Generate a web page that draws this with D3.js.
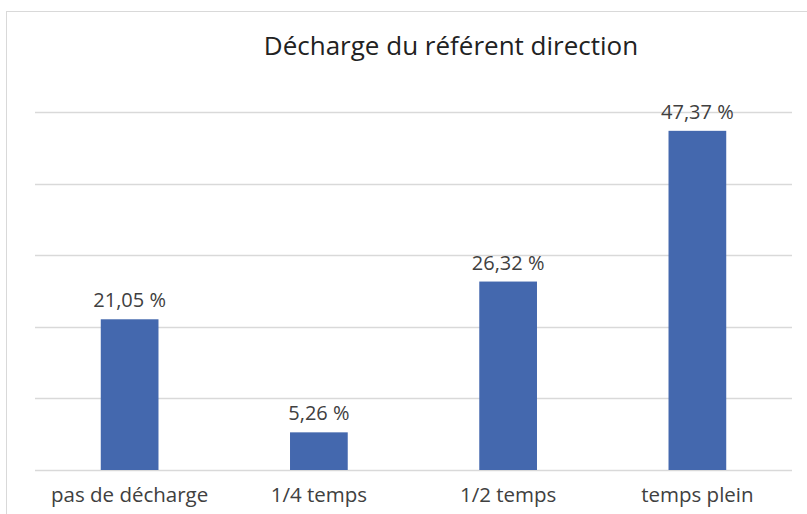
<!DOCTYPE html>
<html><head><meta charset="utf-8">
<script src="https://cdn.jsdelivr.net/npm/d3@7"></script>
<style>body{margin:0;background:#fff;} svg{display:block;}</style>
</head><body>
<svg id="c" width="807" height="514"></svg>
<script>
const categories = ["pas de décharge", "1/4 temps", "1/2 temps", "temps plein"];
const values = [21.05, 5.26, 26.32, 47.37];
const valueLabels = ["21,05 %", "5,26 %", "26,32 %", "47,37 %"];
const yTicks = [0, 10, 20, 30, 40, 50];
const title = "Décharge du référent direction";

(function () {
const svg = d3.select("#c");
const font = "'Open Sans', 'Liberation Sans', sans-serif";
svg.append("rect").attr("x", 6.5).attr("y", 11.5).attr("width", 900).attr("height", 600)
  .attr("fill", "#fff").attr("stroke", "#d9d9d9").attr("stroke-width", 1);

const mLeft = 35, mRight = 792, mTop = 112, mBottom = 470;
const x = d3.scaleBand().domain(categories).range([mLeft, mRight]).paddingInner(0.695).paddingOuter(0.3475);
const y = d3.scaleLinear().domain([0, 50]).range([mBottom, mTop]);

svg.append("g").selectAll("line").data(yTicks).join("line")
  .attr("x1", mLeft).attr("x2", mRight)
  .attr("y1", d => Math.round(y(d)) + 0.5).attr("y2", d => Math.round(y(d)) + 0.5)
  .attr("stroke", "#d9d9d9").attr("stroke-width", 1.5);

svg.append("g").selectAll("rect").data(values).join("rect")
  .attr("x", (d, i) => x(categories[i])).attr("width", x.bandwidth())
  .attr("y", d => y(d)).attr("height", d => y(0) - y(d))
  .attr("fill", "#4468ae");

svg.append("g").selectAll("text").data(values).join("text")
  .attr("x", (d, i) => x(categories[i]) + x.bandwidth() / 2)
  .attr("y", d => y(d) - 12)
  .attr("text-anchor", "middle").attr("font-family", font).attr("font-size", 20)
  .attr("fill", "#404040")
  .text((d, i) => valueLabels[i]);

const xAxis = d3.axisBottom(x).tickSize(0).tickPadding(0);
const gx = svg.append("g").attr("transform", `translate(0,${mBottom})`).call(xAxis);
gx.select(".domain").remove();
gx.selectAll("text").attr("font-family", font).attr("font-size", 20.5).attr("fill", "#404040")
  .attr("dy", null).attr("y", 32);

svg.append("text").attr("x", 451).attr("y", 55).attr("text-anchor", "middle")
  .attr("font-family", font).attr("font-size", 26).attr("fill", "#222").text(title);
})();
</script>
</body></html>
